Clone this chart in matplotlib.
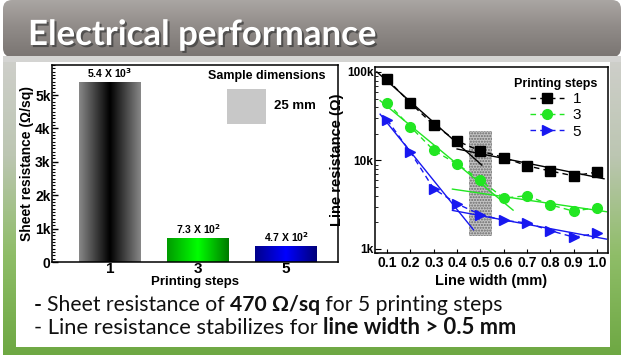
import numpy as np
import matplotlib
matplotlib.use('Agg')
import matplotlib.pyplot as plt
import matplotlib.patheffects as pe
from matplotlib.colors import LinearSegmentedColormap
from matplotlib.patches import Rectangle, FancyBboxPatch
from matplotlib.ticker import FixedLocator, MultipleLocator, NullFormatter, LogLocator

W, H = 624, 358

# ---- data ----
steps = ['1', '3', '5']
sheet_res = [5400, 730, 470]
bar_grads = [['#888888', '#000000', '#888888'],
             ['#009a00', '#00ff00', '#007a00'],
             ['#00008a', '#0000ff', '#000078']]

widths = [0.1, 0.2, 0.3, 0.4, 0.5, 0.6, 0.7, 0.8, 0.9, 1.0]
line_res_1 = [82600, 44600, 25100, 16600, 12800, 10800, 8700, 7600, 6700, 7400]
line_res_3 = [45000, 24000, 13000, 9100, 6000, 3750, 4000, 3150, 2670, 2940]
line_res_5 = [28800, 12400, 4780, 3230, 2450, 2100, 1970, 1610, 1360, 1500]
series_labels = ['1', '3', '5']
series_colors = ['#000000', '#22e622', '#1818f0']
series_markers = ['s', 'o', '>']

# point ranges used for the two linear fits (log scale) and where they are drawn
fit_steep_pts = [(0.1, 0.4), (0.1, 0.5), (0.1, 0.4)]
fit_flat_pts = [(0.5, 1.0), (0.6, 1.0), (0.5, 1.0)]
steep_span = [(0.056, 0.506), (0.07, 0.64), (0.07, 0.47)]
flat_span = [(0.40, 1.03), (0.38, 1.04), (0.38, 1.04)]
highlight_x = (0.45, 0.55)
highlight_y = (1400, 21700)

title = 'Electrical performance'
line1 = [('- ', 'bold'), ('Sheet resistance of ', 'normal'), ('470 Ω/sq', 'bold'),
         (' for 5 printing steps', 'normal')]
line2 = [('- Line resistance stabilizes for ', 'normal'), ('line width > 0.5 mm', 'bold')]

plt.rcParams['font.family'] = ['Liberation Sans', 'DejaVu Sans']
fig = plt.figure(figsize=(W / 100, H / 100), dpi=100)

# ---- slide background ----
bg = fig.add_axes([0, 0, 1, 1])
bg.set_xlim(0, W)
bg.set_ylim(H, 0)
bg.axis('off')

body_cmap = LinearSegmentedColormap.from_list('body', ['#cfcfcb', '#bcc6b2', '#8fbd68', '#6ea843'])
bg.imshow(np.linspace(0, 1, 256).reshape(-1, 1), cmap=body_cmap, aspect='auto',
          extent=(3, 621, 355, 56), zorder=1)
title_box = FancyBboxPatch((3, 0), 618, 57, boxstyle='round,pad=0,rounding_size=9',
                           facecolor='none', edgecolor='none', zorder=2)
bg.add_patch(title_box)
title_cmap = LinearSegmentedColormap.from_list('ttl', ['#aaa6a3', '#8f8a87', '#7a7572'])
im = bg.imshow(np.linspace(0, 1, 256).reshape(-1, 1), cmap=title_cmap, aspect='auto',
               extent=(3, 621, 57, 0), zorder=2)
im.set_clip_path(title_box)
bg.add_patch(Rectangle((3, 56), 618, 6, facecolor='#d4d4d2', edgecolor='none', zorder=3))
bg.add_patch(Rectangle((16, 62), 594, 285, facecolor='white', edgecolor='none', zorder=3))
bg.set_xlim(0, W)
bg.set_ylim(H, 0)

renderer = fig.canvas.get_renderer()


def text_w(s, size, weight, family):
    t = fig.text(0, 0, '|' + s + '|', fontsize=size, fontweight=weight, family=family)
    t2 = fig.text(0, 0, '||', fontsize=size, fontweight=weight, family=family)
    w = t.get_window_extent(renderer).width - t2.get_window_extent(renderer).width
    t.remove()
    t2.remove()
    return w


def put_runs(x, y, runs, target, family, color, **kw):
    total = sum(text_w(s, 10, w, family) for s, w in runs)
    size = 10 * target / total
    cx = x
    for s, w in runs:
        fig.text(cx / W, 1 - y / H, s, fontsize=size, fontweight=w, family=family,
                 color=color, va='baseline', zorder=5, **kw)
        cx += text_w(s, size, w, family)


body_font = ['Lato', 'DejaVu Sans']
put_runs(28, 45, [(title, 'bold')], 350, body_font, 'white',
         path_effects=[pe.withSimplePatchShadow(offset=(1.5, -1.5), shadow_rgbFace='#3a3a3a', alpha=0.7)])
put_runs(34, 311, line1, 468, body_font, '#111111')
put_runs(34, 334, line2, 483, body_font, '#111111')

# ---- left: sheet resistance bars ----
ax1 = fig.add_axes([52 / W, 1 - 262 / H, 286 / W, 197 / H])
xpos = np.arange(len(steps))
bars = ax1.bar(xpos, sheet_res, width=0.7, color='none', edgecolor='none')
for b, cols in zip(bars, bar_grads):
    cm = LinearSegmentedColormap.from_list('g', cols)
    gim = ax1.imshow(np.linspace(0, 1, 256).reshape(1, -1), cmap=cm, aspect='auto',
                     extent=(b.get_x(), b.get_x() + b.get_width(), 0, b.get_height()), zorder=2)
    gim.set_clip_path(b)
    h = b.get_height()
    ex = int(np.floor(np.log10(h)))
    lab = f'{h / 10 ** ex:.1f} X 10$^\\mathbf{{{ex}}}$'
    ax1.text(b.get_x() + b.get_width() / 2, h + 60, lab, ha='center', va='bottom',
             fontsize=7.5, fontweight='bold')
ax1.set_xlim(-0.66, 2.59)
ax1.set_ylim(0, 5900)
ax1.set_xticks(xpos, steps, fontsize=11, fontweight='bold')
ax1.set_yticks(np.arange(0, 6000, 1000), ['0'] + [f'{k}k' for k in range(1, 6)],
               fontsize=10, fontweight='bold')
ax1.yaxis.set_minor_locator(MultipleLocator(100))
ax1.tick_params(axis='y', which='major', direction='in', length=4, width=1, pad=1)
ax1.tick_params(axis='y', which='minor', direction='in', length=2, width=0.8)
ax1.tick_params(axis='x', length=0, pad=0)
ax1.set_ylabel('Sheet resistance (Ω/sq)', fontsize=10, fontweight='bold', labelpad=1)
ax1.set_xlabel('Printing steps', fontsize=9.5, fontweight='bold')
ax1.xaxis.set_label_coords(0.5, -0.07)
for s in ax1.spines.values():
    s.set_linewidth(1.1)
ax1.add_patch(Rectangle((0.612, 0.70), 0.136, 0.178, transform=ax1.transAxes,
                        facecolor='#c8c8c8', edgecolor='none'))
ax1.text(0.752, 0.944, 'Sample dimensions', transform=ax1.transAxes, ha='center',
         va='center', fontsize=9, fontweight='bold')
ax1.text(0.776, 0.792, '25 mm', transform=ax1.transAxes, ha='left', va='center',
         fontsize=9.5, fontweight='bold')

# ---- right: line resistance ----
ax2 = fig.add_axes([375 / W, 1 - 253 / H, 233 / W, 186 / H])
ax2.set_yscale('log')
wx = np.array(widths)
for ys, c, m, lab, sp, fp, ss, fs in zip([line_res_1, line_res_3, line_res_5], series_colors,
                                         series_markers, series_labels, fit_steep_pts,
                                         fit_flat_pts, steep_span, flat_span):
    ys = np.array(ys)
    ax2.plot(wx, ys, ls=(0, (4, 3)), lw=1, color=c, marker=m, ms=7 if m != 's' else 6.5,
             mec=c, mfc=c, label=lab, zorder=3)
    for pts, span in ((sp, ss), (fp, fs)):
        sel = (wx >= pts[0] - 1e-9) & (wx <= pts[1] + 1e-9)
        k, b0 = np.polyfit(wx[sel], np.log10(ys[sel]), 1)
        xx = np.array(span)
        ax2.plot(xx, 10 ** (k * xx + b0), color=c, lw=1, zorder=2)
ax2.add_patch(Rectangle((highlight_x[0], highlight_y[0]), highlight_x[1] - highlight_x[0],
                        highlight_y[1] - highlight_y[0], facecolor='#c4c4c4',
                        edgecolor='#6a6a6a', lw=0, hatch='......', zorder=1))
ax2.set_xlim(0.048, 1.047)
ax2.set_ylim(900, 113800)
ax2.set_xticks(widths, [f'{v:.1f}' for v in widths], fontsize=10, fontweight='bold')
ax2.yaxis.set_major_locator(FixedLocator([1e3, 1e4, 1e5]))
ax2.set_yticklabels(['1k', '10k', '100k'], fontsize=8.5, fontweight='bold')
ax2.yaxis.set_minor_locator(LogLocator(base=10, subs=np.arange(2, 10)))
ax2.yaxis.set_minor_formatter(NullFormatter())
ax2.tick_params(axis='y', which='major', direction='in', length=4, pad=1)
ax2.tick_params(axis='y', which='minor', direction='in', length=2.5)
ax2.tick_params(axis='x', direction='in', length=3, pad=2)
ax2.set_ylabel('Line resistance (Ω)', fontsize=10.5, fontweight='bold')
ax2.yaxis.set_label_coords(-0.135, 0.5)
ax2.set_xlabel('Line width (mm)', fontsize=10.5, fontweight='bold')
ax2.xaxis.set_label_coords(0.5, -0.115)
for s in ax2.spines.values():
    s.set_linewidth(1.1)
leg = ax2.legend(loc='upper right', bbox_to_anchor=(1.0, 1.0), frameon=False,
                 title='Printing steps', fontsize=11, handlelength=2.2, handletextpad=0.6,
                 labelspacing=0.15, borderaxespad=0.3)
leg.get_title().set_fontweight('bold')
leg.get_title().set_fontsize(9)

fig.savefig('out.png', dpi=100)
